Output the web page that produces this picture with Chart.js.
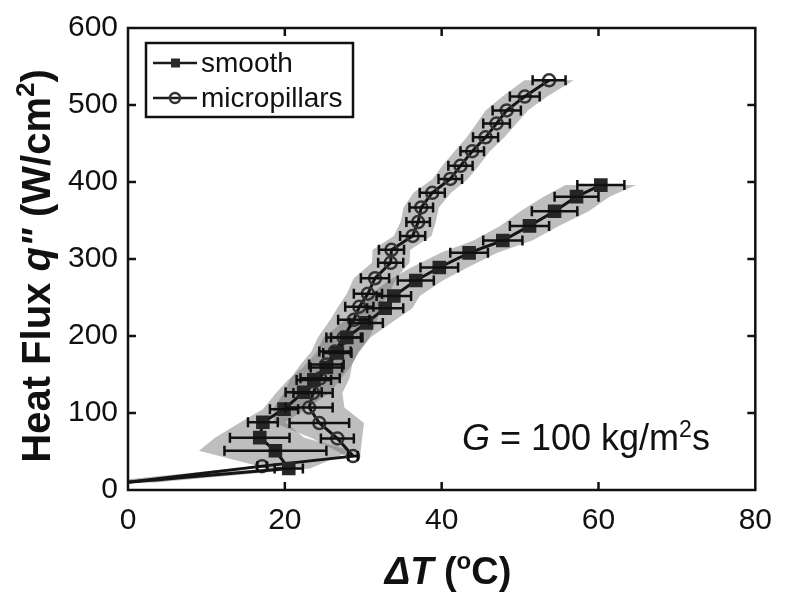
<!DOCTYPE html>
<html>
<head>
<meta charset="utf-8">
<script src="https://cdn.jsdelivr.net/npm/chart.js@4.4.0/dist/chart.umd.min.js"></script>
<style>
  html, body { margin: 0; padding: 0; background: #fff; }
</style>
</head>
<body>
<canvas id="fluxChart" width="785" height="592"></canvas>
<script>
// values: superheat dT (C) vs heat flux q'' (W/cm2)
const smoothDT = [0, 20.5, 18.8, 16.8, 17.2, 19.9, 22.4, 23.7, 25.3, 26.7, 27.9, 30.4, 32.8, 33.9, 36.7, 39.7, 43.5, 47.8, 51.2, 54.4, 57.2, 60.3];
const smoothQ = [10, 28, 51, 68, 88, 105, 127, 143, 159, 178, 198, 217, 236, 252, 272, 289, 308, 324, 343, 362, 381, 396];
const smoothErr = [2.5, 1.8, 6.5, 3.8, 1.9, 1.8, 2.3, 2.2, 2.0, 1.8, 2.0, 2.1, 2.3, 2.2, 2.3, 2.4, 2.4, 2.5, 2.5, 2.9, 2.8, 3.0];

const microDT = [0, 17.1, 28.7, 26.7, 24.4, 23.1, 23.6, 24.5, 25.3, 26.4, 27.5, 28.8, 29.5, 30.6, 31.5, 33.5, 33.6, 36.3, 37.0, 37.4, 38.8, 41.1, 42.4, 43.9, 45.6, 47.0, 48.3, 50.6, 53.7];
const microQ = [10, 31, 44, 67, 87, 107, 126, 145, 163, 180, 198, 221, 238, 255, 275, 295, 312, 330, 348, 367, 386, 404, 421, 440, 458, 476, 493, 511, 532];
const microErr = [2.5, 0.6, 0.6, 2.1, 3.8, 3.0, 2.5, 2.5, 2.2, 2.0, 2.2, 2.0, 1.8, 1.8, 1.8, 1.6, 1.6, 1.6, 1.5, 1.5, 1.6, 1.5, 1.55, 1.5, 1.6, 1.7, 1.8, 1.9, 2.1];

const xTicks = [0, 20, 40, 60, 80];
const yTicks = [0, 100, 200, 300, 400, 500, 600];

const FONT = '"Liberation Sans", Arial, Helvetica, sans-serif';
const BAND_SPREAD = 1.5; // shaded band is a bit wider than the error bars

function toPoints(xs, ys) {
  return xs.map((x, i) => ({ x: x, y: ys[i] }));
}

// outline of the shaded band: left edge going up, right edge coming back down
function bandPoints(xs, ys, errs) {
  const left = xs.map((x, i) => ({ x: x - errs[i] * BAND_SPREAD, y: ys[i] }));
  const right = xs.map((x, i) => ({ x: x + errs[i] * BAND_SPREAD, y: ys[i] })).reverse();
  return left.concat(right);
}

// draws a run of text pieces with their own fonts (italic, superscripts...)
function drawPieces(ctx, pieces, x, y, align) {
  let total = 0;
  pieces.forEach(p => { ctx.font = p.font; total += ctx.measureText(p.text).width; });
  let cx = align === 'center' ? x - total / 2 : x;
  ctx.textAlign = 'left';
  ctx.textBaseline = 'alphabetic';
  pieces.forEach(p => {
    ctx.font = p.font;
    ctx.fillText(p.text, cx, y + (p.dy || 0));
    cx += ctx.measureText(p.text).width;
  });
}

const decor = {
  id: 'decor',
  afterDatasetsDraw(chart) {
    const { ctx, scales: { x, y } } = chart;
    ctx.save();
    ctx.strokeStyle = '#111';
    ctx.lineWidth = 2.5;
    [[smoothDT, smoothQ, smoothErr], [microDT, microQ, microErr]].forEach(([xs, ys, es]) => {
      for (let i = 1; i < xs.length; i++) {
        const py = y.getPixelForValue(ys[i]);
        const x1 = x.getPixelForValue(xs[i] - es[i]);
        const x2 = x.getPixelForValue(xs[i] + es[i]);
        ctx.beginPath();
        ctx.moveTo(x1, py); ctx.lineTo(x2, py);
        ctx.moveTo(x1, py - 5); ctx.lineTo(x1, py + 5);
        ctx.moveTo(x2, py - 5); ctx.lineTo(x2, py + 5);
        ctx.stroke();
      }
    });
    ctx.restore();
  },
  afterDraw(chart) {
    const { ctx, chartArea: a, scales: { x, y } } = chart;
    ctx.save();
    // axes box + inward ticks
    ctx.strokeStyle = '#111';
    ctx.lineWidth = 2.5;
    ctx.strokeRect(a.left, a.top, a.right - a.left, a.bottom - a.top);
    ctx.beginPath();
    xTicks.slice(1, -1).forEach(v => {
      const px = x.getPixelForValue(v);
      ctx.moveTo(px, a.bottom); ctx.lineTo(px, a.bottom - 8);
      ctx.moveTo(px, a.top); ctx.lineTo(px, a.top + 8);
    });
    yTicks.slice(1, -1).forEach(v => {
      const py = y.getPixelForValue(v);
      ctx.moveTo(a.left, py); ctx.lineTo(a.left + 8, py);
      ctx.moveTo(a.right, py); ctx.lineTo(a.right - 8, py);
    });
    ctx.stroke();

    // legend
    const lx = 146, ly = 43, lw = 207, lh = 74;
    ctx.fillStyle = '#fff';
    ctx.fillRect(lx, ly, lw, lh);
    ctx.lineWidth = 2.5;
    ctx.strokeRect(lx, ly, lw, lh);
    const rows = [
      { label: 'smooth', y: ly + 20, square: true },
      { label: 'micropillars', y: ly + 55, square: false }
    ];
    rows.forEach(r => {
      ctx.strokeStyle = '#1a1a1a';
      ctx.lineWidth = 2.5;
      ctx.beginPath(); ctx.moveTo(lx + 7, r.y); ctx.lineTo(lx + 51, r.y); ctx.stroke();
      if (r.square) {
        ctx.fillStyle = '#2a2a2a';
        ctx.fillRect(lx + 25, r.y - 4.5, 9, 9);
      } else {
        ctx.strokeStyle = '#333';
        ctx.beginPath(); ctx.arc(lx + 29, r.y, 5, 0, Math.PI * 2); ctx.stroke();
      }
      ctx.fillStyle = '#111';
      ctx.font = '28px ' + FONT;
      ctx.textAlign = 'left';
      ctx.textBaseline = 'middle';
      ctx.fillText(r.label, lx + 55, r.y + 1);
    });

    // annotation
    ctx.fillStyle = '#111';
    drawPieces(ctx, [
      { text: 'G', font: 'italic 36px ' + FONT },
      { text: ' = 100 kg/m', font: '36px ' + FONT },
      { text: '2', font: '23px ' + FONT, dy: -13 },
      { text: 's', font: '36px ' + FONT }
    ], 462, 450, 'left');

    // x title
    drawPieces(ctx, [
      { text: '\u0394T', font: 'bold italic 38px ' + FONT },
      { text: ' (', font: 'bold 38px ' + FONT },
      { text: 'o', font: 'bold 24px ' + FONT, dy: -15 },
      { text: 'C)', font: 'bold 38px ' + FONT }
    ], 448, 584, 'center');

    // y title, rotated
    ctx.translate(50, 266);
    ctx.rotate(-Math.PI / 2);
    drawPieces(ctx, [
      { text: 'Heat Flux ', font: 'bold 40px ' + FONT },
      { text: 'q"', font: 'bold italic 40px ' + FONT },
      { text: ' (W/cm', font: 'bold 40px ' + FONT },
      { text: '2', font: 'bold 26px ' + FONT, dy: -16 },
      { text: ')', font: 'bold 40px ' + FONT }
    ], 0, 0, 'center');
    ctx.restore();
  }
};

const bandColor = 'rgba(110,110,110,0.45)';

new Chart(document.getElementById('fluxChart').getContext('2d'), {
  type: 'line',
  data: {
    datasets: [
      {
        label: 'smooth band',
        data: bandPoints(smoothDT, smoothQ, smoothErr),
        fill: 'shape',
        backgroundColor: bandColor,
        borderWidth: 0,
        pointRadius: 0,
        tension: 0,
        order: 3
      },
      {
        label: 'micropillars band',
        data: bandPoints(microDT, microQ, microErr),
        fill: 'shape',
        backgroundColor: bandColor,
        borderWidth: 0,
        pointRadius: 0,
        tension: 0,
        order: 3
      },
      {
        label: 'smooth',
        data: toPoints(smoothDT, smoothQ),
        borderColor: '#151515',
        borderWidth: 3,
        pointStyle: 'rect',
        pointRadius: smoothDT.map((v, i) => (i ? 7.5 : 0)),
        pointBackgroundColor: '#262626',
        pointBorderColor: '#262626',
        order: 1
      },
      {
        label: 'micropillars',
        data: toPoints(microDT, microQ),
        borderColor: '#151515',
        borderWidth: 3,
        pointStyle: 'circle',
        pointRadius: microDT.map((v, i) => (i ? 6 : 0)),
        pointBackgroundColor: 'rgba(0,0,0,0)',
        pointBorderColor: '#333',
        pointBorderWidth: 2.5,
        order: 2
      }
    ]
  },
  options: {
    responsive: false,
    animation: false,
    layout: { padding: { top: 22, right: 28, bottom: 0, left: 0 } },
    plugins: {
      legend: { display: false },
      tooltip: { enabled: false }
    },
    scales: {
      x: {
        type: 'linear',
        min: 0,
        max: 80,
        afterBuildTicks: ax => { ax.ticks = xTicks.map(v => ({ value: v })); },
        afterFit: ax => { ax.height = 102; },
        grid: { display: false, drawTicks: false },
        border: { display: false },
        ticks: { color: '#111', padding: 13, font: { family: FONT, size: 30 } }
      },
      y: {
        type: 'linear',
        min: 0,
        max: 600,
        afterBuildTicks: ax => { ax.ticks = yTicks.map(v => ({ value: v })); },
        afterFit: ax => { ax.width = 128; },
        grid: { display: false, drawTicks: false },
        border: { display: false },
        ticks: { color: '#111', padding: 10, font: { family: FONT, size: 30 } }
      }
    }
  },
  plugins: [decor]
});
</script>
</body>
</html>
